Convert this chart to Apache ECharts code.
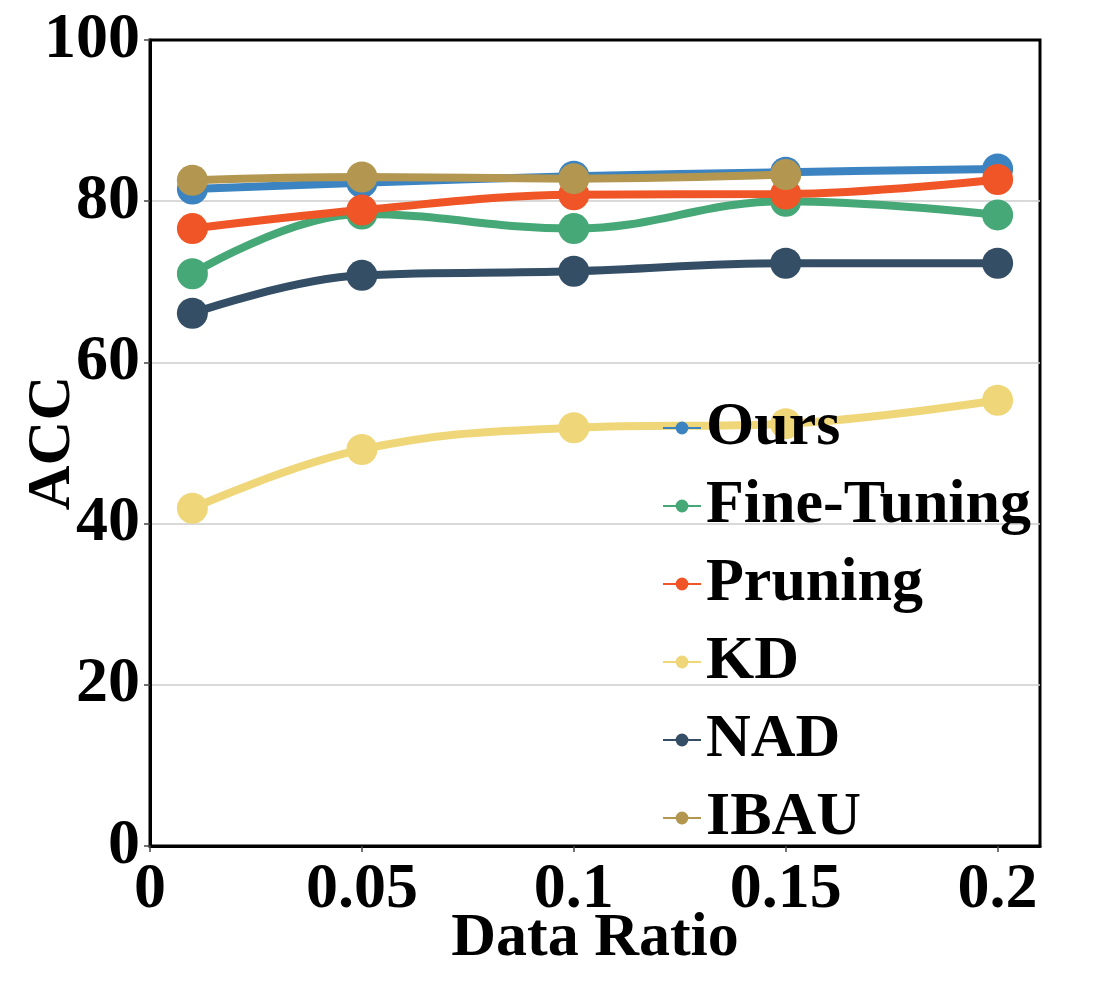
<!DOCTYPE html>
<html>
<head>
<meta charset="utf-8">
<script src="https://cdn.jsdelivr.net/npm/echarts@6/dist/echarts.min.js"></script>
<style>
html,body{margin:0;padding:0;background:#fff;}
#chart{width:1093px;height:984px;}
</style>
</head>
<body>
<div id="chart"></div>
<script>
var xValues = [0.01, 0.05, 0.1, 0.15, 0.2];
var seriesNames = ['Ours', 'Fine-Tuning', 'Pruning', 'KD', 'NAD', 'IBAU'];
var ours = [81.5, 82.3, 83.1, 83.6, 84.0];
var fineTuning = [71.0, 78.4, 76.6, 80.0, 78.3];
var pruning = [76.6, 78.9, 80.8, 80.9, 82.7];
var kd = [41.9, 49.2, 51.9, 52.4, 55.3];
var nad = [66.1, 70.8, 71.3, 72.3, 72.3];
var ibau = [82.6, 83.0, 82.8, 83.3, null];
var colors = ['#3b84c1', '#46a876', '#ef5526', '#efd779', '#344e66', '#b3964f'];

var allData = [ours, fineTuning, pruning, kd, nad, ibau];
var font = '"Liberation Serif", "Times New Roman", serif';

function pairs(arr) {
  var out = [];
  for (var i = 0; i < xValues.length; i++) {
    if (arr[i] !== null) out.push([xValues[i], arr[i]]);
  }
  return out;
}

var series = seriesNames.map(function (name, i) {
  return {
    name: name,
    type: 'line',
    data: pairs(allData[i]),
    smooth: 0.4,
    symbol: 'circle',
    symbolSize: 31,
    lineStyle: { width: 8, color: colors[i] },
    itemStyle: { color: colors[i] },
    emphasis: { disabled: true },
    z: 2 + i
  };
});

var chart = echarts.init(document.getElementById('chart'), null, { renderer: 'canvas' });
chart.setOption({
  animation: false,
  backgroundColor: '#fff',
  grid: {
    left: 150, right: 53, top: 40, bottom: 138,
    outerBoundsMode: 'none',
    containLabel: false,
    show: true, borderColor: '#000', borderWidth: 3, backgroundColor: 'transparent'
  },
  legend: {
    orient: 'vertical',
    left: 657,
    top: 392,
    itemWidth: 38,
    itemHeight: 16,
    itemGap: 16,
    z: 20,
    textStyle: {
      fontFamily: font, fontWeight: 'bold', fontSize: 62, color: '#000',
      lineHeight: 60, padding: [0, 0, 0, 0]
    },
    data: seriesNames
  },
  xAxis: {
    type: 'value',
    min: 0, max: 0.21, interval: 0.05,
    name: 'Data Ratio',
    nameLocation: 'middle',
    nameGap: 62,
    nameMoveOverlap: false,
    nameTextStyle: { fontFamily: font, fontWeight: 'bold', fontSize: 62, color: '#000' },
    axisLine: { lineStyle: { color: '#000', width: 3 } },
    axisTick: { show: true, length: 6, lineStyle: { color: '#444', width: 1.5 } },
    splitLine: { show: false },
    axisLabel: {
      showMaxLabel: false,
      margin: 12,
      fontFamily: font, fontWeight: 'bold', fontSize: 64, color: '#000',
      formatter: function (v) { return String(+v.toFixed(2)); }
    }
  },
  yAxis: {
    type: 'value',
    min: 0, max: 100, interval: 20,
    name: 'ACC',
    nameLocation: 'middle',
    nameRotate: 90,
    nameGap: 66,
    nameMoveOverlap: false,
    nameTextStyle: { fontFamily: font, fontWeight: 'bold', fontSize: 62, color: '#000' },
    axisLine: { lineStyle: { color: '#000', width: 3 } },
    axisTick: { show: true, length: 6, lineStyle: { color: '#444', width: 1.5 } },
    splitLine: { show: true, showMaxLine: false, lineStyle: { color: '#cccccc', width: 1.5 } },
    axisLabel: {
      margin: 10,
      fontFamily: font, fontWeight: 'bold', fontSize: 64, color: '#000'
    }
  },
  series: series
});
</script>
</body>
</html>
